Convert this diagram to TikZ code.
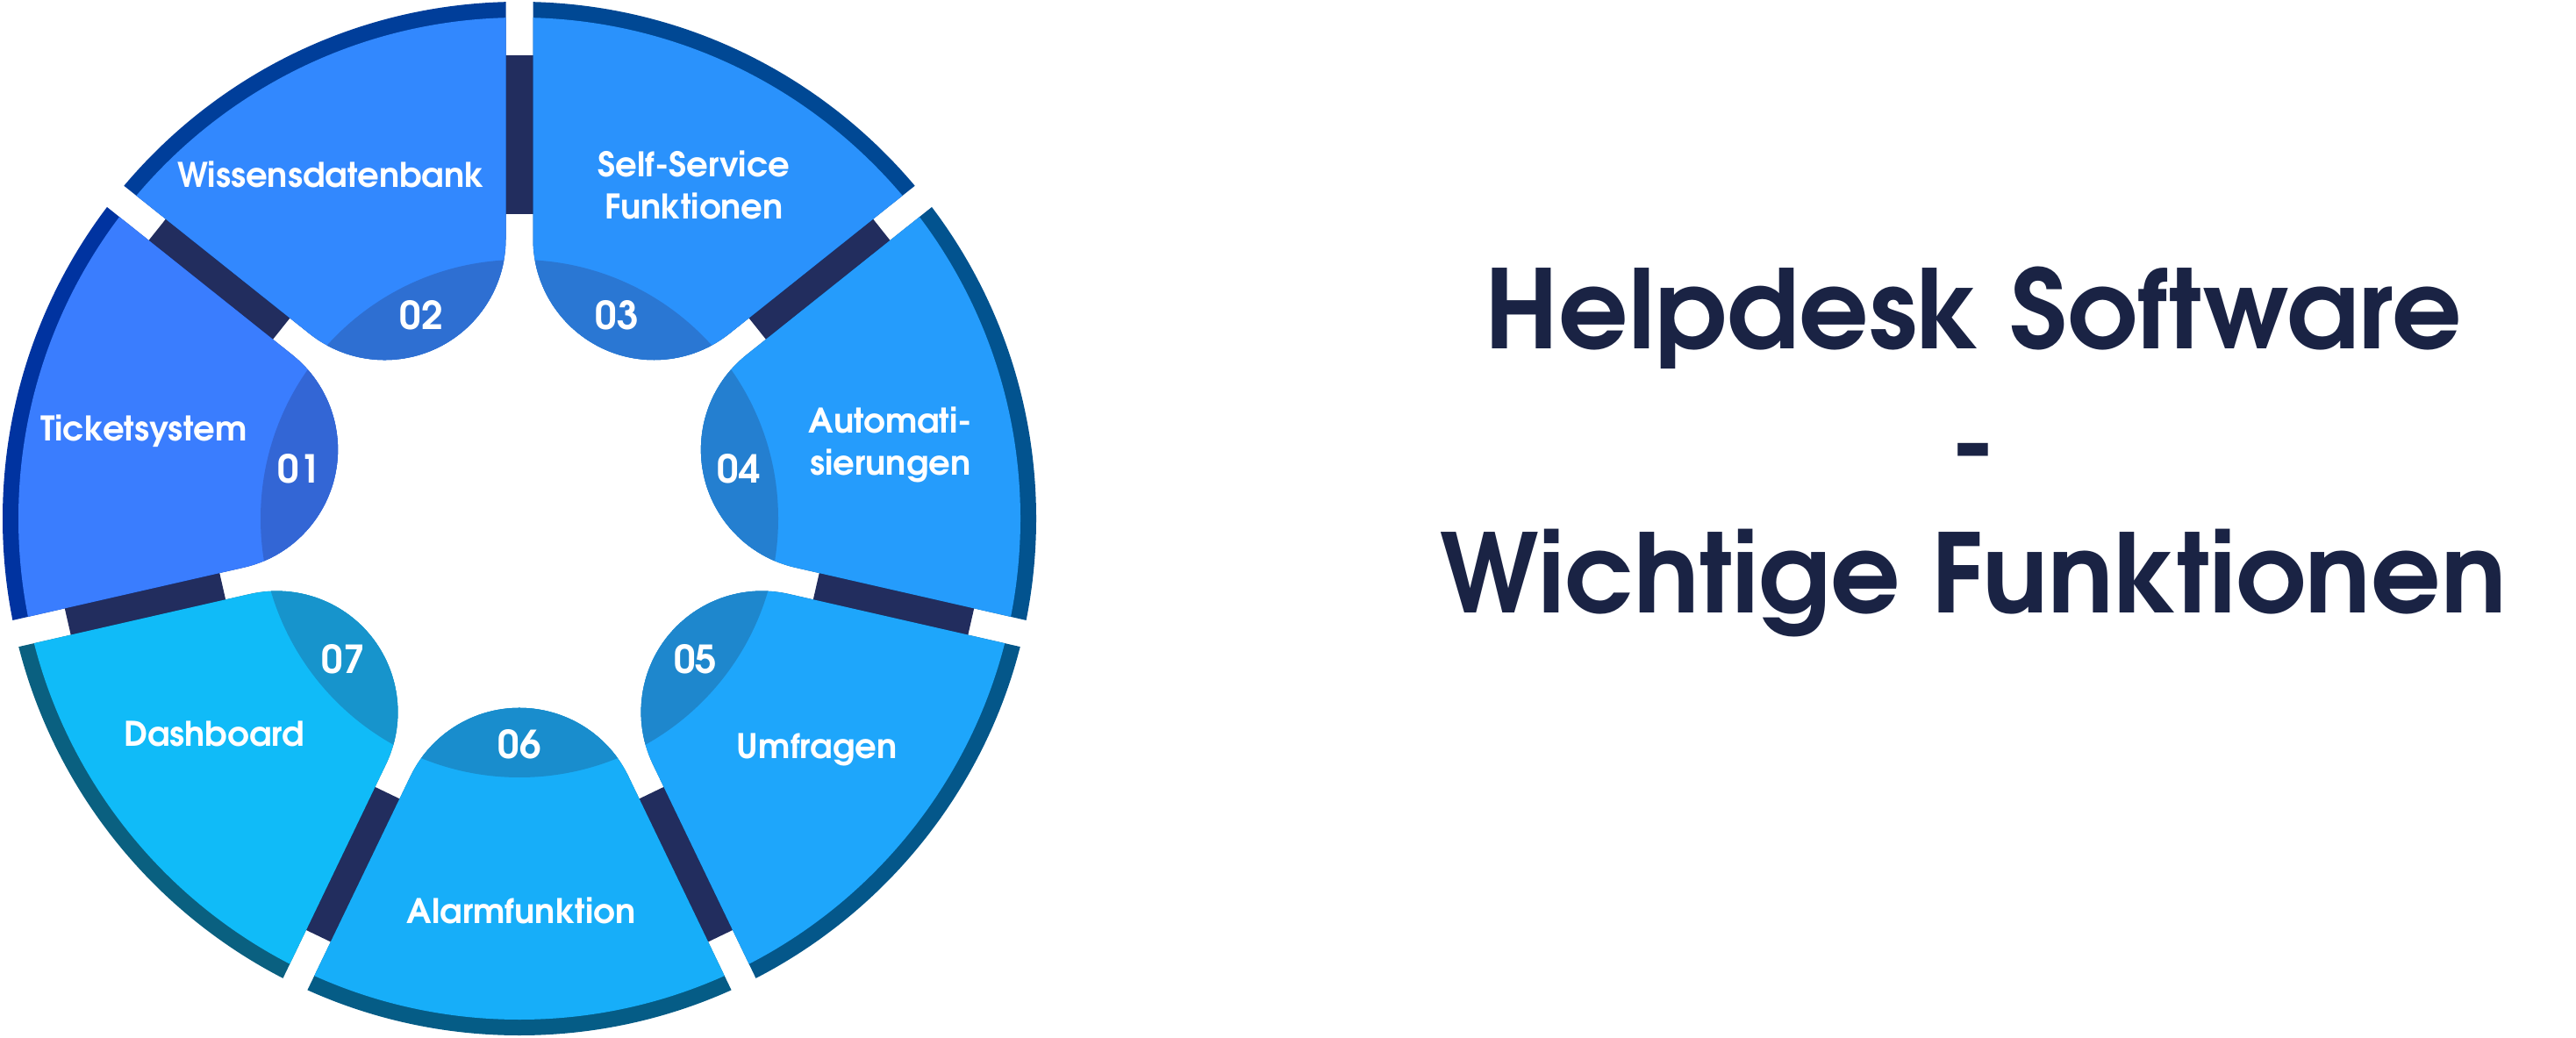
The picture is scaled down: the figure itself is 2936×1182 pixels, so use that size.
\documentclass[tikz,border=0pt]{standalone}
\usepackage{fontspec}
\setmainfont{texgyreadventor}[Extension=.otf, UprightFont=*-regular, BoldFont=*-bold]
\usetikzlibrary{calc}

\definecolor{barnavy}{HTML}{222D5E}
\definecolor{titlenavy}{HTML}{1A2344}
\definecolor{fillA}{HTML}{3A7DFE}\definecolor{bandA}{HTML}{0033A0}\definecolor{numA}{HTML}{3366D5}
\definecolor{fillB}{HTML}{3288FE}\definecolor{bandB}{HTML}{003E9A}\definecolor{numB}{HTML}{2E6FD2}
\definecolor{fillC}{HTML}{2A92FC}\definecolor{bandC}{HTML}{004894}\definecolor{numC}{HTML}{2A77D3}
\definecolor{fillD}{HTML}{259CFC}\definecolor{bandD}{HTML}{02538F}\definecolor{numD}{HTML}{247FD0}
\definecolor{fillE}{HTML}{1EA6FB}\definecolor{bandE}{HTML}{04578A}\definecolor{numE}{HTML}{1E87CD}
\definecolor{fillF}{HTML}{17AEF9}\definecolor{bandF}{HTML}{055C86}\definecolor{numF}{HTML}{198DCD}
\definecolor{fillG}{HTML}{10BBF8}\definecolor{bandG}{HTML}{0A6080}\definecolor{numG}{HTML}{1794CC}

% wedge with rounded tip: #1 apex, #2 bisector angle
\newcommand\wedgepath[2]{($(#1)+(#2+25.714:286.56)$)
  arc[start angle=#2+115.714, delta angle=128.571, radius=138]
  -- ($(#1)+(#2-25.714:720)$) -- ($(#1)+(#2+25.714:720)$) -- cycle}

\tikzset{
  gapbar/.style={draw=barnavy, line width=3.2mm},
  segnum/.style={text=white, font=\bfseries\fontsize{12.5}{14}\selectfont},
  seglabel/.style={text=white, font=\bfseries\fontsize{11}{13.9}\selectfont, align=center},
  titletext/.style={text=titlenavy, font=\bfseries\fontsize{35.4}{42.7}\selectfont, align=center}
}

\begin{document}
\begin{tikzpicture}[x=0.1mm, y=0.1mm]
\useasboundingbox (0,0) rectangle (2936,1182);
\coordinate (C) at (592,591);

% dark bars in the gaps
\foreach \g in {90,141.429,192.857,244.286,295.714,347.143,38.571}
  \draw[gapbar] ($(C)+(\g:347)$) -- ($(C)+(\g:528)$);

% segments
\foreach \ang/\fc/\bc/\nc/\nr/\txt/\lx/\ly in {
    167.143/fillA/bandA/numA/01/{Ticketsystem}/164/691,
    115.714/fillB/bandB/numB/02/{Wissensdatenbank}/377/983,
    64.286/fillC/bandC/numC/03/{Self-Service\\Funktionen}/791/971,
    12.857/fillD/bandD/numD/04/{Automati-\\sierungen}/1015/675,
    -38.571/fillE/bandE/numE/05/{Umfragen}/931/328,
    270/fillF/bandF/numF/06/{Alarmfunktion}/594/144,
    218.571/fillG/bandG/numG/07/{Dashboard}/244/346}{
  \coordinate (apex\nr) at ($(C)+(\ang:35.72)$);
  \begin{scope}
    \clip (C) circle (589);
    \fill[\bc] \wedgepath{apex\nr}{\ang};
    \clip (C) circle (571);
    \fill[\fc] \wedgepath{apex\nr}{\ang};
    \clip (C) circle (295);
    \fill[\nc] \wedgepath{apex\nr}{\ang};
  \end{scope}
  \node[segnum] (num\nr) at ($(C)+(\ang:257)$) {\nr};
  \node[seglabel] (lab\nr) at (\lx,\ly) {\txt};
}

\node[titletext] (title) at (2249,667) {Helpdesk Software\\-\\Wichtige Funktionen};
\end{tikzpicture}
\end{document}
